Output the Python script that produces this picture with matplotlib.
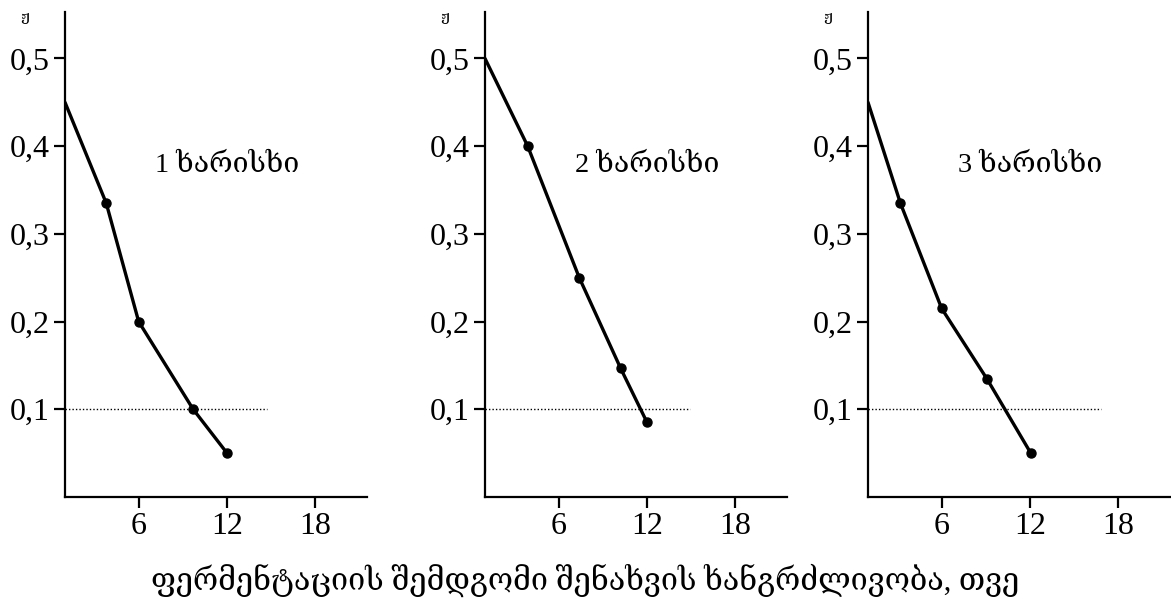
import matplotlib
matplotlib.use("Agg")
import matplotlib.pyplot as plt

plt.rcParams['font.family'] = ['Liberation Serif', 'DejaVu Serif']

# storage duration (months) and values for the three grades
x1 = [1, 3.8, 6.0, 9.7, 12.0]
y1 = [0.45, 0.335, 0.2, 0.1, 0.05]
x2 = [1, 3.9, 7.4, 10.2, 12.0]
y2 = [0.5, 0.4, 0.25, 0.147, 0.085]
x3 = [1, 3.2, 6.0, 9.1, 12.05]
y3 = [0.45, 0.335, 0.215, 0.134, 0.05]

series = [(x1, y1), (x2, y2), (x3, y3)]
grades = ["1 ხარისხი", "2 ხარისხი", "3 ხარისხი"]
limit_ends = [14.7, 14.9, 16.8]
limit = 0.1

yticks = [0.1, 0.2, 0.3, 0.4, 0.5]
ytick_labels = ["0,1", "0,2", "0,3", "0,4", "0,5"]
xticks = [6, 12, 18]
unit = "ჟ"
xlabel = "ფერმენტაციის შემდგომი შენახვის ხანგრძლივობა, თვე"

W, H = 1171, 599
fig = plt.figure(figsize=(W / 100, H / 100), dpi=100)

lefts = [65, 485, 868]
for i, (xs, ys) in enumerate(series):
    ax = fig.add_axes([lefts[i] / W, (H - 497) / H, 302 / W, 485 / H])
    ax.plot(xs, ys, color='black', lw=2.4, solid_capstyle='round')
    ax.plot(xs[1:], ys[1:], 'o', color='black', ms=6.5)
    ax.plot([1, limit_ends[i]], [limit, limit], color='black', lw=1, ls=(0, (1, 1.5)))
    ax.text(12, 0.378, grades[i], ha='center', va='center', fontsize=20.5)
    ax.set_xlim(1, 21.5)
    ax.set_ylim(0, 0.553)
    ax.set_xticks(xticks)
    ax.set_xticklabels([str(t) for t in xticks])
    ax.set_yticks(yticks)
    ax.set_yticklabels(ytick_labels)
    for s in ['top', 'right']:
        ax.spines[s].set_visible(False)
    for s in ['left', 'bottom']:
        ax.spines[s].set_linewidth(1.6)
    ax.tick_params(direction='out', length=8, width=1.6, labelsize=23, pad=3)
    fig.text((lefts[i] - 40) / W, 1 - 17 / H, unit, fontsize=11, ha='center', va='center')

fig.text(585 / W, 1 - 580 / H, xlabel, ha='center', va='center', fontsize=22)

fig.savefig("out.png", dpi=100)
